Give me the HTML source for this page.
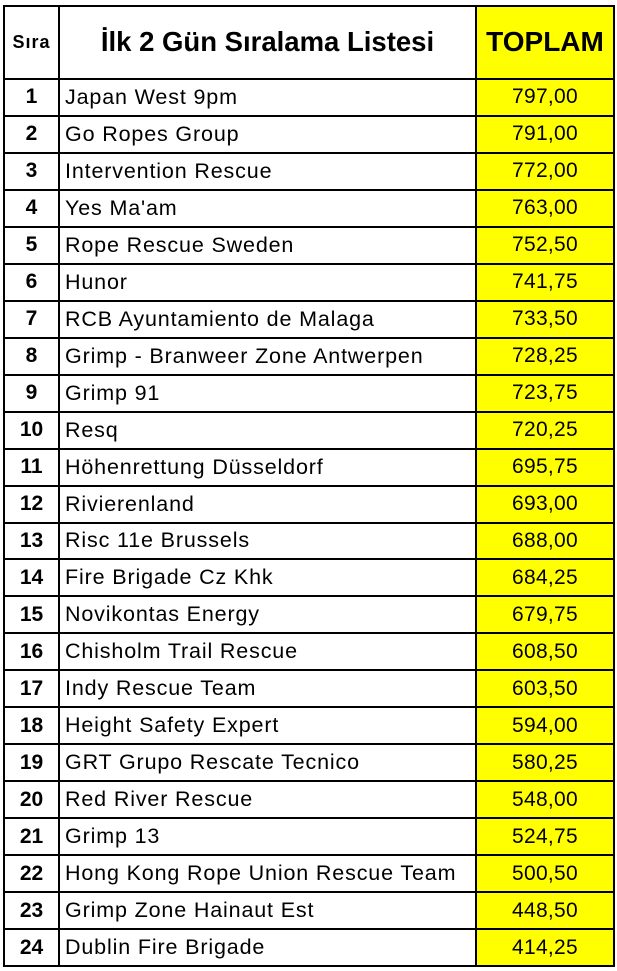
<!DOCTYPE html>
<html><head><meta charset="utf-8"><style>
body{margin:0;width:617px;height:971px;background:#fff;position:relative;overflow:hidden;font-family:"Liberation Sans",sans-serif;}
.c{position:absolute;box-sizing:border-box;display:flex;align-items:center;white-space:nowrap;color:#000;}
.n{justify-content:center;font-weight:bold;font-size:21px;}
.t{padding-left:6px;font-size:21.5px;letter-spacing:0.85px;}
.v{justify-content:center;font-size:21px;letter-spacing:0.3px;background:#ffff00;}
.h{position:absolute;background:#000;}
</style></head><body>
<div class="c" style="left:476px;top:5px;width:138px;height:961px;background:#ffff00"></div>
<div class="c n" style="left:4px;top:5px;width:55px;height:74px;font-size:18px;letter-spacing:1px">Sıra</div>
<div class="c" style="left:59px;top:5px;width:417px;height:74px;justify-content:center;font-weight:bold;font-size:27.5px">İlk 2 Gün Sıralama Listesi</div>
<div class="c" style="left:476px;top:5px;width:138px;height:74px;justify-content:center;font-weight:bold;font-size:28px">TOPLAM</div>
<div id="rows"></div>
<script>
var d=[["Japan West 9pm","797,00"],["Go Ropes Group","791,00"],["Intervention Rescue","772,00"],["Yes Ma'am","763,00"],["Rope Rescue Sweden","752,50"],["Hunor","741,75"],["RCB Ayuntamiento de Malaga","733,50"],["Grimp - Branweer Zone Antwerpen","728,25"],["Grimp 91","723,75"],["Resq","720,25"],["Höhenrettung Düsseldorf","695,75"],["Rivierenland","693,00"],["Risc 11e Brussels","688,00"],["Fire Brigade Cz Khk","684,25"],["Novikontas Energy","679,75"],["Chisholm Trail Rescue","608,50"],["Indy Rescue Team","603,50"],["Height Safety Expert","594,00"],["GRT Grupo Rescate Tecnico","580,25"],["Red River Rescue","548,00"],["Grimp 13","524,75"],["Hong Kong Rope Union Rescue Team","500,50"],["Grimp Zone Hainaut Est","448,50"],["Dublin Fire Brigade","414,25"]];
var h="";var rh=887/24;
for(var i=0;i<24;i++){var y=79+i*rh;
h+='<div class="c n" style="left:4px;top:'+y+'px;width:55px;height:'+rh+'px">'+(i+1)+'</div>';
h+='<div class="c t" style="left:59px;top:'+y+'px;width:417px;height:'+rh+'px">'+d[i][0]+'</div>';
h+='<div class="c v" style="left:476px;top:'+y+'px;width:138px;height:'+rh+'px">'+d[i][1]+'</div>';
h+='<div class="h" style="left:3px;top:'+(y-1)+'px;width:612px;height:2px"></div>';}
h+='<div class="h" style="left:3px;top:965px;width:612px;height:2px"></div>';
h+='<div class="h" style="left:3px;top:5px;width:612px;height:2px"></div>';
[3,58,475,613].forEach(function(x){h+='<div class="h" style="left:'+x+'px;top:5px;width:2px;height:962px"></div>';});
document.getElementById("rows").innerHTML=h;
</script>
</body></html>
